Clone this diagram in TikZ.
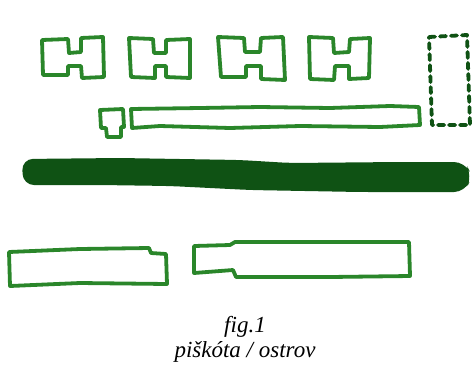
\documentclass[tikz,border=0pt]{standalone}
\usepackage{fontspec}
\setmainfont{Liberation Serif}
\definecolor{pen}{HTML}{2A862A}
\definecolor{darkpen}{HTML}{0F5214}

\begin{document}
\begin{tikzpicture}[x=1pt,y=-1pt,line width=3.8pt,line join=round,line cap=round]
\path[use as bounding box] (0,0) rectangle (473,378);
% H blocks
\draw[pen] (42,40) -- (68,39) -- (69,53) -- (81,52) -- (81,38) -- (103,37) -- (104,77) -- (82,78) -- (81,66) -- (68,66) -- (68,75) -- (43,75) -- cycle;
\draw[pen] (129,38) -- (153,39) -- (154,53) -- (166,53) -- (166,40) -- (190,39) -- (190,78) -- (166,77) -- (166,66) -- (155,66) -- (155,78) -- (131,77) -- cycle;
\draw[pen] (218,37) -- (244,38) -- (245,52) -- (260,52) -- (261,38) -- (283,37) -- (285,80) -- (261,79) -- (261,66) -- (246,66) -- (246,77) -- (221,77) -- cycle;
\draw[pen] (309,37) -- (333,38) -- (334,53) -- (349,52) -- (350,39) -- (370,38) -- (369,78) -- (349,79) -- (349,66) -- (335,66) -- (334,80) -- (310,79) -- cycle;
% dashed block
\draw[darkpen,dash pattern=on 6pt off 5pt] (429,37) -- (467,35) -- (470,125) -- (432,125) -- cycle;
% narrow strip and small piece
\draw[pen] (100,110) -- (123,109) -- (124,127) -- (121,127) -- (121,137) -- (107,137) -- (106,128) -- (101,128) -- cycle;
\draw[pen] (131,109) -- (200,108) -- (260,107) -- (330,108) -- (390,106) -- (419,107) -- (420,125) -- (380,127) -- (300,126) -- (230,128) -- (160,126) -- (132,128) -- cycle;
% dark bar
\fill[darkpen,rounded corners=11pt] (22,159) -- (120,158) -- (240,160) -- (290,163) -- (400,162) -- (465,162) -- (472,176) -- (465,192) -- (360,192) -- (250,190) -- (170,186) -- (100,185) -- (23,185) -- cycle;
% bottom blocks
\draw[pen] (9,252) -- (80,249) -- (149,248) -- (151,253) -- (166,254) -- (167,284) -- (80,283) -- (10,286) -- cycle;
\draw[pen] (194,246) -- (230,245) -- (235,242) -- (330,242) -- (409,242) -- (410,276) -- (330,277) -- (236,277) -- (233,270) -- (194,273) -- cycle;
% caption
\node[font=\fontsize{23}{25}\selectfont\itshape,align=center] (caption) at (245,339) {fig.1\\pišk\'ota / ostrov};
\end{tikzpicture}
\end{document}
